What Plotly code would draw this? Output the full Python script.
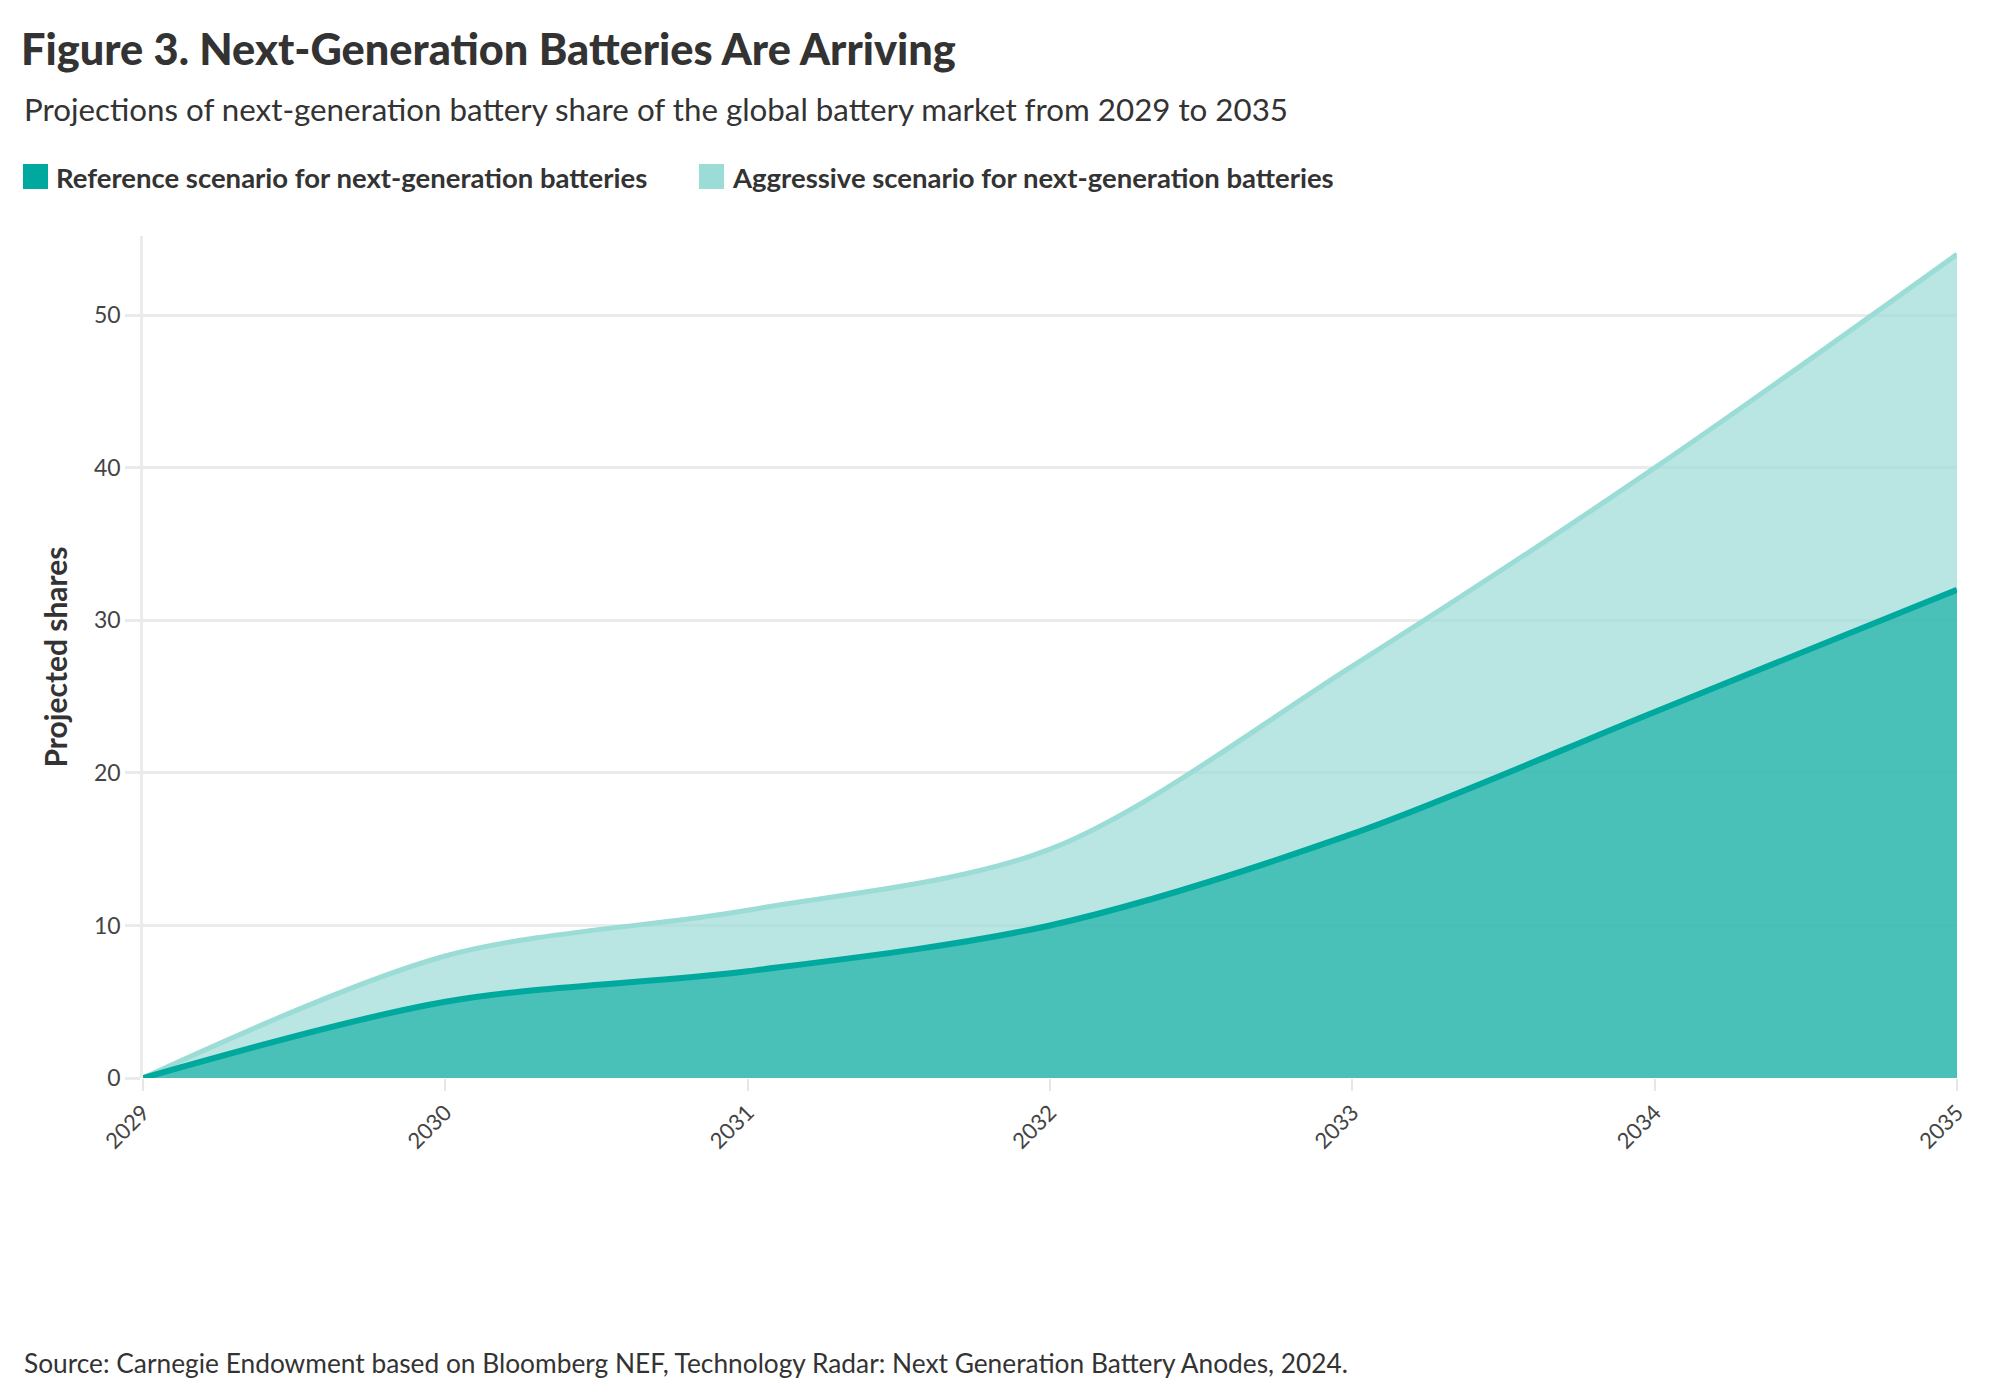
import plotly.graph_objects as go

years = [2029, 2030, 2031, 2032, 2033, 2034, 2035]
reference = [0, 5, 7, 10, 16, 24, 32]
aggressive = [0, 8, 11, 15, 27, 40, 54]
y_ticks = [0, 10, 20, 30, 40, 50]
series_names = ["Reference scenario for next-generation batteries",
                "Aggressive scenario for next-generation batteries"]

REF_LINE = "#00A99D"
REF_FILL = "rgba(0,169,157,0.6)"
AGG_LINE = "#9BDCD6"
AGG_FILL = "rgba(155,220,214,0.7)"
FONT = "Lato"
TXT = "#333333"

# plot area in pixels
L, R, T, B = 143, 1957, 236, 1078
PW, PH = R - L, B - T


def px(x):
    return (x - L) / PW


def py(y):
    return (B - y) / PH


fig = go.Figure()
fig.add_trace(go.Scatter(
    x=years, y=aggressive, mode="lines", name=series_names[1],
    line=dict(color=AGG_LINE, width=5, shape="spline", smoothing=0.9),
    fill="tozeroy", fillcolor=AGG_FILL, showlegend=False, hoverinfo="skip"))
fig.add_trace(go.Scatter(
    x=years, y=reference, mode="lines", name=series_names[0],
    line=dict(color=REF_LINE, width=6, shape="spline", smoothing=0.9),
    fill="tozeroy", fillcolor=REF_FILL, showlegend=False, hoverinfo="skip"))

# custom legend (large square keys)
legend_items = [(23, REF_LINE, series_names[0]), (699, AGG_LINE, series_names[1])]
shapes = []
annotations = []
for x0, col, name in legend_items:
    shapes.append(dict(type="rect", xref="paper", yref="paper",
                       x0=px(x0), x1=px(x0 + 25), y0=py(189), y1=py(164),
                       fillcolor=col, line=dict(width=0)))
    annotations.append(dict(text="<b>" + name + "</b>", xref="paper", yref="paper",
                            x=px(x0 + 31), y=py(177), xanchor="left", yanchor="middle",
                            showarrow=False, font=dict(size=27.5, color=TXT, family=FONT)))

annotations += [
    dict(text="Projections of next-generation battery share of the global battery market from 2029 to 2035",
         xref="paper", yref="paper", x=px(22), y=py(109),
         xanchor="left", yanchor="middle", showarrow=False,
         font=dict(size=31.3, color=TXT, family=FONT)),
    dict(text="Source: Carnegie Endowment based on Bloomberg NEF, Technology Radar: Next Generation Battery Anodes, 2024.",
         xref="paper", yref="paper", x=px(22), y=py(1363),
         xanchor="left", yanchor="middle", showarrow=False,
         font=dict(size=26.3, color=TXT, family=FONT)),
]

fig.update_layout(
    width=2000, height=1400,
    margin=dict(l=L, r=2000 - R, t=T, b=1400 - B),
    paper_bgcolor="white", plot_bgcolor="white",
    font=dict(family=FONT, color=TXT),
    hovermode=False,
    showlegend=False,
    title=dict(text="Figure 3. Next-Generation Batteries Are Arriving",
               x=0.0105, xanchor="left", xref="container",
               y=1 - 50 / 1400, yanchor="middle", yref="container",
               font=dict(size=43.3, color=TXT, family=FONT, weight=900)),
    xaxis=dict(range=[2029, 2035], tickvals=years, ticktext=[str(y) for y in years],
               tickangle=-45, showgrid=False, zeroline=False,
               showline=False, ticks="outside", ticklen=12, tickwidth=2, tickcolor="#e6e6e6",
               tickfont=dict(size=22, color="#444444", family=FONT)),
    yaxis=dict(range=[0, 55.2], tickvals=y_ticks, showgrid=True, gridcolor="#ebebeb", gridwidth=2.5,
               zeroline=False, showline=True, linecolor="#ebebeb", linewidth=2.5,
               ticks="outside", ticklen=15, tickwidth=2.5, tickcolor="#ebebeb",
               tickfont=dict(size=23, color="#444444", family=FONT),
               title=dict(text="<b>Projected shares</b>", standoff=18,
                          font=dict(size=30, color=TXT, family=FONT))),
    shapes=shapes,
    annotations=annotations,
)

fig.write_html("out.html")
